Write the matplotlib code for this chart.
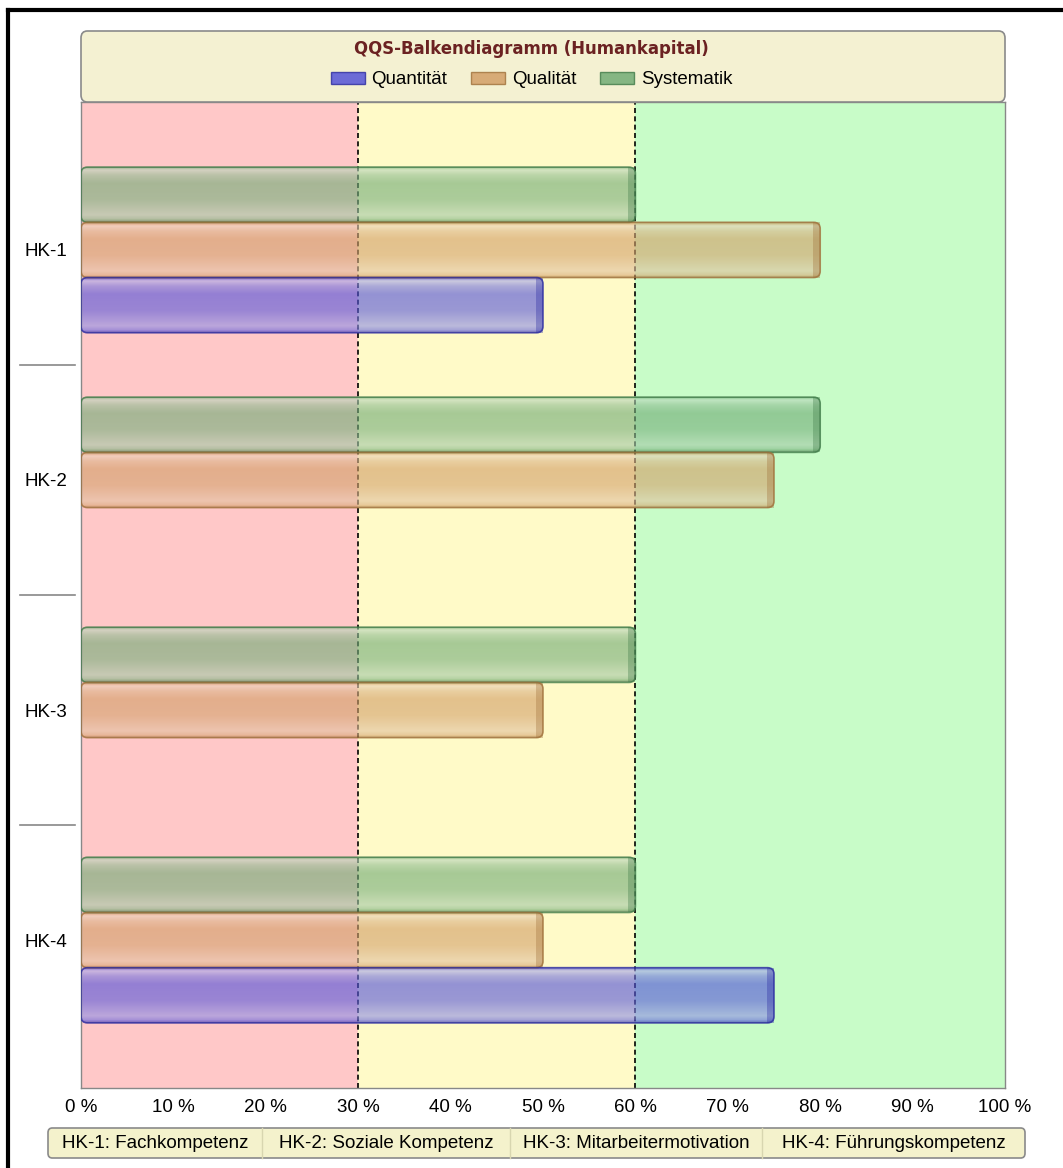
import matplotlib.pyplot as plt
import numpy as np
from matplotlib.patches import FancyBboxPatch, Rectangle
from matplotlib.colors import to_rgb
from matplotlib.lines import Line2D

plt.rcParams['font.family'] = ['Liberation Sans', 'DejaVu Sans']

# data
categories = ["HK-1", "HK-2", "HK-3", "HK-4"]
series = ["Quantität", "Qualität", "Systematik"]
quantitaet = [50, 0, 0, 75]
qualitaet = [80, 75, 50, 50]
systematik = [60, 80, 60, 60]
zones = [(0, 30, "#ffc8c8"), (30, 60, "#fffac8"), (60, 100, "#c8fcc8")]
ticks = [0, 10, 20, 30, 40, 50, 60, 70, 80, 90, 100]
bottom_labels = ["HK-1: Fachkompetenz", "HK-2: Soziale Kompetenz",
                 "HK-3: Mitarbeitermotivation", "HK-4: Führungskompetenz"]
title = "QQS-Balkendiagramm (Humankapital)"

colors = {"Quantität": "#4a4ad8", "Qualität": "#d09a60", "Systematik": "#6aa870"}
edges = {"Quantität": "#2a2aa0", "Qualität": "#a0703a", "Systematik": "#3f7a48"}

fig = plt.figure(figsize=(10.63, 11.68), dpi=100)
ax = fig.add_axes([81/1063, 80/1168, 924/1063, 986/1168])

ylo, yhi = -0.643, len(categories) - 1 + 0.643
ax.set_xlim(0, 100)
ax.set_ylim(yhi, ylo)

for a, b, c in zones:
    ax.axvspan(a, b, color=c, zorder=0)
for x in (30, 60):
    ax.axvline(x, color="black", ls=(0, (3, 2)), lw=1.2, zorder=1)

bh = 0.24
aspect = (yhi - ylo) / 986 / (100 / 924)


def glossy_bar(ax, yc, width, name):
    if width <= 0:
        return
    base = np.array(to_rgb(colors[name]))
    pos = np.array([0, 0.06, 0.16, 0.3, 0.6, 0.88, 0.95, 1.0])
    mix = np.array([-0.3, 0.55, 0.25, 0.05, 0.1, 0.4, 0.2, -0.3])
    rows = np.linspace(0, 1, 60)
    m = np.interp(rows, pos, mix)
    img = np.zeros((60, 2, 4))
    for i, v in enumerate(m):
        if v >= 0:
            c = base + (1 - base) * v
        else:
            c = base * (1 + v)
        img[i, :, :3] = c
        img[i, :, 3] = 0.62
    y0, y1 = yc - bh / 2, yc + bh / 2
    patch = FancyBboxPatch((0, y0), width, bh,
                           boxstyle="round,pad=0,rounding_size=0.7",
                           mutation_aspect=aspect, facecolor="none",
                           edgecolor=edges[name], lw=1.2, alpha=0.8, zorder=3)
    ax.add_patch(patch)
    im = ax.imshow(img, extent=(0, width, y1, y0), aspect="auto",
                   interpolation="bilinear", zorder=2)
    im.set_clip_path(patch)
    # darker cap at the right end
    ax.add_patch(Rectangle((width - 0.8, y0), 0.8, bh, color=edges[name],
                           alpha=0.35, lw=0, zorder=2.5))


for i in range(len(categories)):
    glossy_bar(ax, i - bh, systematik[i], "Systematik")
    glossy_bar(ax, i, qualitaet[i], "Qualität")
    glossy_bar(ax, i + bh, quantitaet[i], "Quantität")

ax.set_yticks(range(len(categories)))
ax.set_yticklabels(categories, fontsize=13.5)
ax.tick_params(axis="y", length=0, pad=10)
ax.set_xticks(ticks)
ax.set_xticklabels([f"{t} %" for t in ticks], fontsize=13.5)
ax.tick_params(axis="x", length=0, pad=8)
for s in ax.spines.values():
    s.set_color("#888888")
    s.set_linewidth(1)

# category separators on the left
for k in range(len(categories) - 1):
    ax.plot([-0.066, -0.006], [k + 0.5, k + 0.5], color="#888888", lw=1.2,
            transform=ax.get_yaxis_transform(), clip_on=False)

# header box with title and legend
hx0, hx1 = 81/1063, 1005/1063
hy0, hy1 = 1066/1168, 1137/1168
fig.patches.append(FancyBboxPatch((hx0, hy0), hx1 - hx0, hy1 - hy0,
                                  boxstyle="round,pad=0,rounding_size=0.006",
                                  transform=fig.transFigure, facecolor="#f4f1d2",
                                  edgecolor="#8a8a8a", lw=1.2, zorder=0))
fig.text(0.5, (1168 - 49)/1168, title, ha="center", va="center",
         fontsize=13.2, fontweight="bold", fontstretch="condensed",
         color="#6b2222", family="DejaVu Sans")
handles = [Rectangle((0, 0), 1, 1, facecolor=colors[s], edgecolor=edges[s], alpha=0.8)
           for s in series]
fig.legend(handles, series, loc="center", bbox_to_anchor=(0.5, (1168 - 80)/1168),
           ncol=3, frameon=False, fontsize=13.5, handlelength=1.8, handleheight=0.65,
           columnspacing=1.3, handletextpad=0.35)

# bottom legend box
bx0, bx1 = 48/1063, 1025/1063
by0, by1 = (1168 - 1158)/1168, (1168 - 1128)/1168
fig.patches.append(FancyBboxPatch((bx0, by0), bx1 - bx0, by1 - by0,
                                  boxstyle="round,pad=0,rounding_size=0.004",
                                  transform=fig.transFigure, facecolor="#f4f2cc",
                                  edgecolor="#8a8a8a", lw=1.2, zorder=0))
dividers = [48, 262, 510, 762, 1025]
for k, lab in enumerate(bottom_labels):
    xc = (dividers[k] + dividers[k + 1]) / 2 / 1063
    fig.text(xc, (by0 + by1) / 2, lab, ha="center", va="center", fontsize=13.5)
    if 0 < k:
        fig.add_artist(Line2D([dividers[k]/1063] * 2, [by0, by1],
                              color="#d8d6b0", lw=1, transform=fig.transFigure))

# outer frame (top and left)
fig.add_artist(Line2D([8/1063, 1.0], [1 - 10/1168] * 2, color="black", lw=3,
                      transform=fig.transFigure))
fig.add_artist(Line2D([8/1063] * 2, [0, 1 - 10/1168], color="black", lw=3,
                      transform=fig.transFigure))

fig.savefig("out.png", dpi=100)
